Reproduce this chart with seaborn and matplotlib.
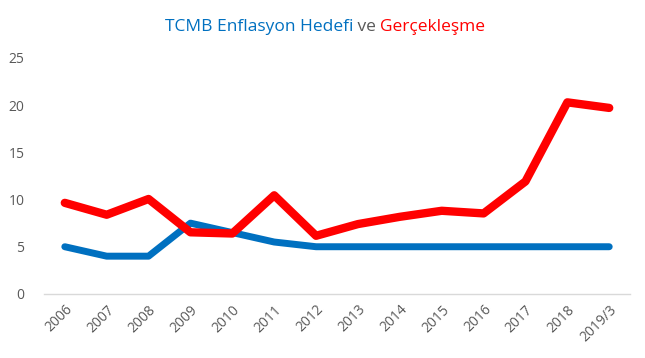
import matplotlib
matplotlib.use('Agg')
import matplotlib.pyplot as plt
import seaborn as sns
import pandas as pd

# Veri
yillar = ['2006', '2007', '2008', '2009', '2010', '2011', '2012',
          '2013', '2014', '2015', '2016', '2017', '2018', '2019/3']
hedef = [5, 4, 4, 7.5, 6.5, 5.5, 5, 5, 5, 5, 5, 5, 5, 5]
gerceklesme = [9.65, 8.39, 10.06, 6.53, 6.40, 10.45, 6.16,
               7.40, 8.17, 8.81, 8.53, 11.92, 20.30, 19.71]

df = pd.DataFrame({'yil': yillar, 'hedef': hedef, 'gercek': gerceklesme})
df['x'] = range(len(df))

sns.set_style('white')
plt.rcParams['font.family'] = ['Open Sans', 'DejaVu Sans']

fig = plt.figure(figsize=(6.45, 3.58), dpi=100)
ax = fig.add_axes([0.068, 0.179, 0.909, 0.659])

sns.lineplot(data=df, x='x', y='hedef', ax=ax, color='#0070C0',
             linewidth=5, solid_capstyle='round', solid_joinstyle='round')
sns.lineplot(data=df, x='x', y='gercek', ax=ax, color='#FF0000',
             linewidth=6, solid_capstyle='round', solid_joinstyle='round')

ax.set_xlim(-0.5, len(df) - 0.5)
ax.set_ylim(0, 25)
ax.set_yticks([0, 5, 10, 15, 20, 25])
ax.set_xticks(df['x'])
ax.set_xticklabels(yillar, rotation=45, ha='right', rotation_mode='anchor')
ax.tick_params(axis='both', colors='#595959', labelsize=10, length=0)
ax.tick_params(axis='y', pad=14)
ax.tick_params(axis='x', pad=6)
ax.set_xlabel('')
ax.set_ylabel('')
for s in ['top', 'right', 'left']:
    ax.spines[s].set_visible(False)
ax.spines['bottom'].set_color('#D9D9D9')
ax.spines['bottom'].set_linewidth(1)

# Baslik - renkli parcalar
parcalar = [('TCMB Enflasyon Hedefi', '#0070C0'), (' ve ', '#595959'),
            ('Gerçekleşme', '#FF0000')]
fig.canvas.draw()
r = fig.canvas.get_renderer()
texts = []
toplam = 0
for metin, renk in parcalar:
    t = fig.text(0, 0.925, metin, color=renk, fontsize=12.5, va='center', ha='left')
    w = t.get_window_extent(renderer=r).width
    texts.append((t, w))
    toplam += w
x0 = 325 - toplam / 2
for t, w in texts:
    t.set_x(x0 / fig.bbox.width)
    x0 += w

plt.savefig('out.png', dpi=100)
